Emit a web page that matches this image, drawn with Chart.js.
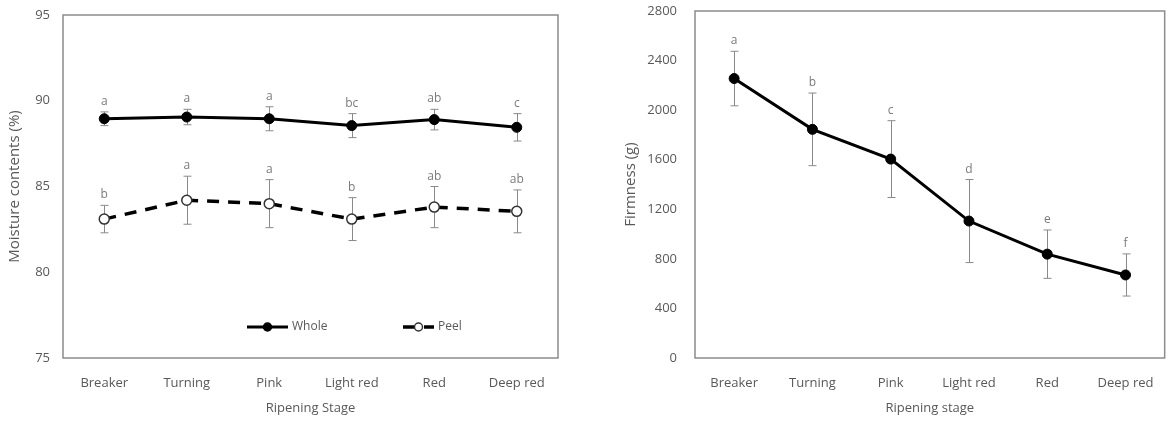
<!DOCTYPE html>
<html>
<head>
<meta charset="utf-8">
<script src="https://cdn.jsdelivr.net/npm/chart.js@4.4.1/dist/chart.umd.min.js"></script>
<style>
html, body { margin: 0; padding: 0; background: #fff; }
#wrap { position: relative; width: 1171px; height: 422px; }
.panel { position: absolute; top: 0; height: 422px; }
</style>
</head>
<body>
<div id="wrap">
	<div class="panel" style="left:0;width:590px"><canvas id="moist" width="590" height="422"></canvas></div>
	<div class="panel" style="left:590px;width:581px"><canvas id="firm" width="581" height="422"></canvas></div>
</div>
<script>
var stages = ['Breaker', 'Turning', 'Pink', 'Light red', 'Red', 'Deep red'];

// moisture contents (%)
var wholeMean = [88.95, 89.05, 88.95, 88.55, 88.9, 88.45];
var wholeErr = [0.4, 0.45, 0.7, 0.7, 0.6, 0.8];
var wholeLetters = ['a', 'a', 'a', 'bc', 'ab', 'c'];
var peelMean = [83.1, 84.2, 84.0, 83.1, 83.8, 83.55];
var peelErr = [0.8, 1.4, 1.4, 1.25, 1.2, 1.25];
var peelLetters = ['b', 'a', 'a', 'b', 'ab', 'ab'];

// firmness (g)
var firmMean = [2255, 1845, 1605, 1105, 838, 670];
var firmErr = [220, 293, 310, 335, 195, 170];
var firmLetters = ['a', 'b', 'c', 'd', 'e', 'f'];

var FONT = "'Open Sans', 'Noto Sans', sans-serif";
var TEXT = '#595959';

Chart.defaults.font.family = FONT;
Chart.defaults.color = TEXT;

var plotFrame = {
	id: 'plotFrame',
	beforeDatasetsDraw: function(chart) {
		var a = chart.chartArea;
		var ctx = chart.ctx;
		ctx.save();
		ctx.strokeStyle = '#8c8c8c';
		ctx.lineWidth = 1.5;
		ctx.strokeRect(a.left, a.top, a.right - a.left, a.bottom - a.top);
		ctx.restore();
	}
};

var errorBars = {
	id: 'errorBars',
	beforeDatasetsDraw: function(chart) {
		var ctx = chart.ctx;
		var y = chart.scales.y;
		ctx.save();
		ctx.strokeStyle = '#8a8a8a';
		ctx.lineWidth = 1;
		chart.data.datasets.forEach(function(ds, i) {
			if (!ds.errors) return;
			chart.getDatasetMeta(i).data.forEach(function(pt, j) {
				var top = y.getPixelForValue(ds.data[j] + ds.errors[j]);
				var bot = y.getPixelForValue(ds.data[j] - ds.errors[j]);
				var x = Math.round(pt.x) + 0.5;
				ctx.beginPath();
				ctx.moveTo(x, top);
				ctx.lineTo(x, bot);
				ctx.moveTo(x - 4, top);
				ctx.lineTo(x + 4, top);
				ctx.moveTo(x - 4, bot);
				ctx.lineTo(x + 4, bot);
				ctx.stroke();
			});
		});
		ctx.restore();
	},
	afterDatasetsDraw: function(chart) {
		var ctx = chart.ctx;
		var y = chart.scales.y;
		ctx.save();
		ctx.fillStyle = '#7a7a7a';
		ctx.font = '12px ' + FONT;
		ctx.textAlign = 'center';
		ctx.textBaseline = 'alphabetic';
		chart.data.datasets.forEach(function(ds, i) {
			if (!ds.letters) return;
			chart.getDatasetMeta(i).data.forEach(function(pt, j) {
				var top = y.getPixelForValue(ds.data[j] + ds.errors[j]);
				ctx.fillText(ds.letters[j], pt.x, top - 7);
			});
		});
		ctx.restore();
	}
};

// legend drawn inside the plot area, like the original
var innerLegend = {
	id: 'innerLegend',
	afterDraw: function(chart, args, opts) {
		if (!opts.items) return;
		var ctx = chart.ctx;
		ctx.save();
		ctx.font = '12px ' + FONT;
		ctx.textBaseline = 'middle';
		opts.items.forEach(function(it) {
			var ds = chart.data.datasets[it.dataset];
			ctx.strokeStyle = ds.borderColor;
			ctx.lineWidth = ds.borderWidth;
			ctx.setLineDash(ds.borderDash || []);
			ctx.beginPath();
			ctx.moveTo(it.x0, opts.y);
			ctx.lineTo(it.x1, opts.y);
			ctx.stroke();
			ctx.setLineDash([]);
			ctx.beginPath();
			ctx.arc((it.x0 + it.x1) / 2, opts.y, 4, 0, Math.PI * 2);
			ctx.fillStyle = ds.pointBackgroundColor;
			ctx.fill();
			ctx.lineWidth = 1.5;
			ctx.strokeStyle = ds.pointBorderColor;
			ctx.stroke();
			ctx.fillStyle = TEXT;
			ctx.fillText(ds.label, it.x1 + 4, opts.y);
		});
		ctx.restore();
	}
};

function xAxis(title) {
	return {
		type: 'category',
		offset: true,
		grid: {display: false, drawTicks: false},
		border: {display: false},
		ticks: {padding: 17, font: {size: 13}, color: TEXT},
		title: {display: true, text: title, font: {size: 13}, color: TEXT, padding: {top: 6, bottom: 6}},
		afterFit: function(s) { s.height = 64; }
	};
}

// tick gap is made with an invisible tick mark so it does not push the plot top down
function yAxis(min, max, step, title, gap, titlePad, width) {
	return {
		min: min,
		max: max,
		grid: {display: true, drawOnChartArea: false, drawTicks: true, tickLength: gap, tickColor: 'rgba(0,0,0,0)'},
		border: {display: false},
		ticks: {
			stepSize: step,
			padding: 0,
			font: {size: 13},
			color: TEXT,
			callback: function(v) { return String(v); }
		},
		title: {display: true, text: title, font: {size: 15}, color: TEXT, padding: {top: titlePad, bottom: 2}},
		afterFit: function(s) { s.width = width; }
	};
}

new Chart(document.getElementById('moist').getContext('2d'), {
	type: 'line',
	data: {
		labels: stages,
		datasets: [{
			label: 'Whole',
			data: wholeMean,
			errors: wholeErr,
			letters: wholeLetters,
			borderColor: '#000',
			borderWidth: 3,
			pointRadius: 5,
			pointBackgroundColor: '#000',
			pointBorderColor: '#000',
			pointBorderWidth: 1
		}, {
			label: 'Peel',
			data: peelMean,
			errors: peelErr,
			letters: peelLetters,
			borderColor: '#000',
			borderWidth: 3.5,
			borderDash: [12, 9],
			pointRadius: 5,
			pointBackgroundColor: '#fff',
			pointBorderColor: '#333',
			pointBorderWidth: 1.5
		}]
	},
	options: {
		responsive: false,
		animation: false,
		devicePixelRatio: 1,
		layout: {padding: {top: 15, right: 32, bottom: 0, left: 0}},
		plugins: {
			legend: {display: false},
			tooltip: {enabled: false},
			innerLegend: {y: 327, items: [{dataset: 0, x0: 247, x1: 288}, {dataset: 1, x0: 403, x1: 434}]}
		},
		scales: {
			x: xAxis('Ripening Stage'),
			y: yAxis(75, 95, 5, 'Moisture contents (%)', 13, 6, 63)
		}
	},
	plugins: [plotFrame, errorBars, innerLegend]
});

new Chart(document.getElementById('firm').getContext('2d'), {
	type: 'line',
	data: {
		labels: stages,
		datasets: [{
			label: 'Firmness',
			data: firmMean,
			errors: firmErr,
			letters: firmLetters,
			borderColor: '#000',
			borderWidth: 3,
			pointRadius: 5,
			pointBackgroundColor: '#000',
			pointBorderColor: '#000',
			pointBorderWidth: 1
		}]
	},
	options: {
		responsive: false,
		animation: false,
		devicePixelRatio: 1,
		layout: {padding: {top: 11, right: 3, bottom: 0, left: 0}},
		plugins: {
			legend: {display: false},
			tooltip: {enabled: false}
		},
		scales: {
			x: xAxis('Ripening stage'),
			y: yAxis(0, 2800, 400, 'Firmness (g)', 18, 32, 105)
		}
	},
	plugins: [plotFrame, errorBars]
});
</script>
</body>
</html>
